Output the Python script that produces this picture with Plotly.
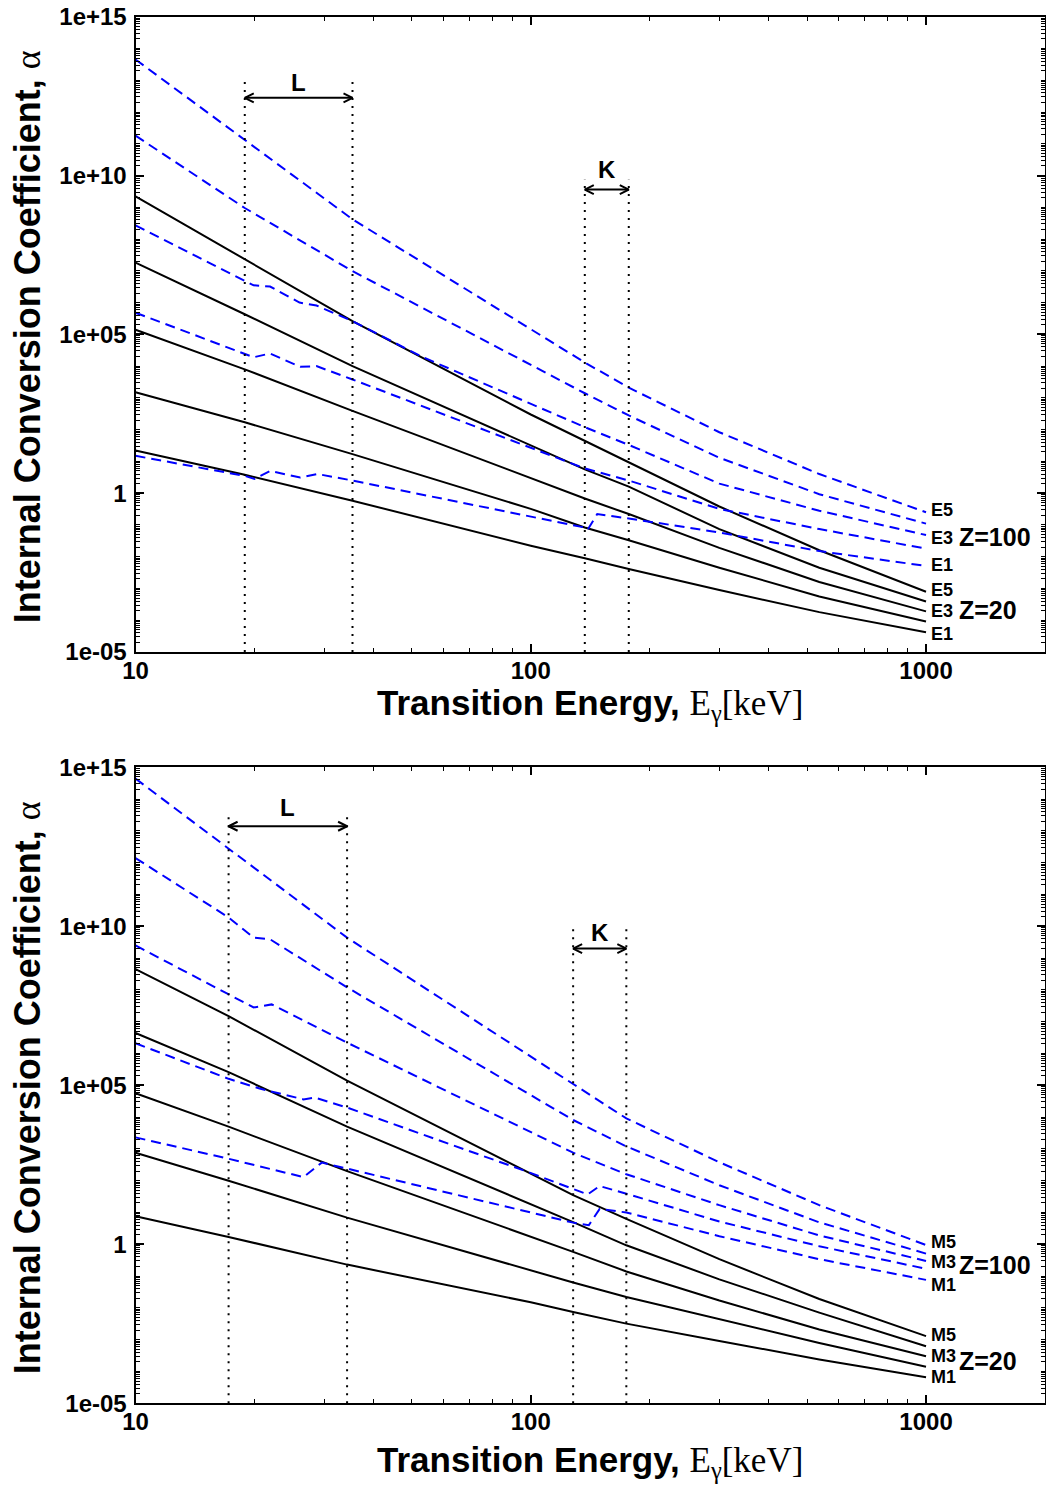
import math
import plotly.graph_objects as go

# ---------------- data: internal conversion coefficients ----------------
# Upper panel, electric multipoles.  Z=20 curves share one energy grid (keV).
E_EL_Z20 = [10, 18.9, 35.4, 100, 137, 177, 300, 537, 1000]
ALPHA_E1_Z20 = [22, 3.8, 0.58, 0.022, 8.9e-3, 4.1e-3, 8.9e-4, 1.8e-4, 4.2e-5]
ALPHA_E2_Z20 = [1.5e3, 1.7e2, 17, 0.32, 0.083, 0.033, 4.5e-3, 5.6e-4, 9.1e-5]
ALPHA_E3_Z20 = [1.4e5, 7.9e3, 3.9e2, 3.1, 0.68, 0.22, 0.019, 1.6e-3, 1.9e-4]
ALPHA_E4_Z20 = [1.8e7, 4.3e5, 1.0e4, 31, 5.6, 1.6, 0.074, 4.5e-3, 3.9e-4]
ALPHA_E5_Z20 = [2.2e9, 2.3e7, 2.6e5, 3.0e2, 44, 9.3, 0.38, 0.016, 7.9e-4]

# Z=100 curves (with L- and K-shell edge structure)
E_E5_Z100 = [10, 18.9, 35.4, 137, 177, 300, 537, 1000]
ALPHA_E5_Z100 = [4.5e13, 1.3e11, 4.2e8, 1.3e4, 2.1e3, 83, 4.0, 0.25]
E_E4_Z100 = [10, 18.9, 35.4, 137, 177, 300, 537, 1000]
ALPHA_E4_Z100 = [1.8e11, 9.5e8, 9.8e6, 1.4e3, 2.8e2, 13, 0.93, 0.11]
E_E3_Z100 = [10, 18.9, 19.9, 21.9, 26.0, 28.7, 35.4, 53.4, 137, 177, 300, 537, 1000]
ALPHA_E3_Z100 = [2.7e8, 5.0e6, 3.5e6, 3.2e6, 1.0e6, 8.1e5, 2.6e5, 1.9e4, 1.2e2, 33, 2.0, 0.28, 0.048]
E_E2_Z100 = [10, 18.9, 19.9, 21.9, 26.1, 28.7, 35.4, 137, 177, 300, 537, 1000]
ALPHA_E2_Z100 = [4.8e5, 2.3e4, 1.9e4, 2.5e4, 9.5e3, 1.0e4, 3.8e3, 6.0, 2.5, 0.32, 0.074, 0.018]
E_E1_Z100 = [10, 18.9, 20.0, 21.9, 26.1, 28.9, 35.4, 137, 139.3, 147.3, 177, 300, 537, 1000]
ALPHA_E1_Z100 = [15, 3.5, 2.8, 5.0, 3.1, 4.0, 2.5, 0.083, 0.071, 0.22, 0.16, 0.058, 0.015, 5.1e-3]

# Lower panel, magnetic multipoles.
E_MAG_Z20 = [10, 17.2, 34.3, 100, 128, 174.5, 300, 537, 1000]
ALPHA_M1_Z20 = [7.6, 1.7, 0.23, 0.015, 7.4e-3, 3.2e-3, 9.1e-4, 2.4e-4, 6.6e-5]
ALPHA_M2_Z20 = [7.6e2, 1.0e2, 6.9, 0.15, 0.063, 0.022, 4.4e-3, 7.9e-4, 1.4e-4]
ALPHA_M3_Z20 = [5.6e4, 5.0e3, 2.0e2, 1.8, 0.58, 0.14, 0.017, 2.1e-3, 3.0e-4]
ALPHA_M4_Z20 = [4.4e6, 2.6e5, 5.0e3, 19, 5.0, 0.93, 0.079, 7.1e-3, 6.2e-4]
ALPHA_M5_Z20 = [4.5e8, 1.5e7, 1.4e5, 1.6e2, 35, 6.3, 0.34, 0.019, 1.3e-3]

E_M5_Z100 = [10, 17.2, 34.3, 128, 174.5, 300, 537, 1000]
ALPHA_M5_Z100 = [4.4e14, 2.8e12, 4.4e9, 1.1e5, 9.1e3, 3.8e2, 17, 0.95]
E_M4_Z100 = [10, 17.2, 19.9, 21.9, 34.3, 128, 174.5, 300, 537, 1000]
ALPHA_M4_Z100 = [1.4e12, 1.9e10, 4.4e9, 3.9e9, 1.2e8, 8.1e3, 1.2e3, 72, 4.9, 0.51]
E_M3_Z100 = [10, 17.2, 19.9, 22.1, 34.3, 128, 174.5, 300, 537, 1000]
ALPHA_M3_Z100 = [2.5e9, 7.2e7, 2.8e7, 3.5e7, 2.2e6, 7.6e2, 1.6e2, 17, 1.9, 0.30]
E_M2_Z100 = [10, 17.2, 20.6, 26.6, 28.4, 34.3, 99.4, 128, 139.3, 149.4, 174.5, 300, 537, 1000]
ALPHA_M2_Z100 = [2.1e6, 1.6e5, 7.9e4, 3.6e4, 4.1e4, 2.0e4, 1.8e2, 54, 37, 68, 39, 5.2, 0.87, 0.17]
E_M1_Z100 = [10, 17.2, 26.6, 29.6, 34.3, 128, 140.3, 149.4, 174.5, 300, 537, 1000]
ALPHA_M1_Z100 = [2.3e3, 4.9e2, 1.3e2, 3.7e2, 2.4e2, 4.8, 4.0, 13, 10, 1.8, 0.34, 0.076]

# Binding-energy ranges (keV) marked by dotted lines
TOP_L_EDGES = [18.9, 35.4]
TOP_K_EDGES = [137, 177]
BOT_L_EDGES = [17.2, 34.3]
BOT_K_EDGES = [128, 174.5]
# heights (alpha) of: dotted line top, arrow, letter
TOP_L_MARK = [1.0e13, 2.8e12, 8.3e12]
TOP_K_MARK = [7.4e9, 3.6e9, 1.5e10]
BOT_L_MARK = [3.8e13, 1.4e13, 5.5e13]
BOT_K_MARK = [8.1e9, 2.0e9, 6.6e9]

# Axis ticks
X_TICKS = [10, 100, 1000]
X_TICK_TEXT = ["10", "100", "1000"]
Y_TICKS = [1e-5, 1, 1e5, 1e10, 1e15]
Y_TICK_TEXT = ["1e-05", "1", "1e+05", "1e+10", "1e+15"]
X_MAX = 2000
Y_MIN, Y_MAX = 1e-5, 1e15

SANS = "Liberation Sans, Arial, Helvetica, sans-serif"
BLUE = "#0000ff"
BLACK = "#000000"

fig = go.Figure()


def add_curve(xs, ys, xa, ya, z100):
    fig.add_trace(go.Scatter(
        x=xs, y=ys, mode="lines", xaxis=xa, yaxis=ya,
        line=dict(color=BLUE if z100 else BLACK, width=2,
                  dash="10px,6px" if z100 else "solid"),
        hoverinfo="skip", showlegend=False))


# ---- upper panel curves ----
for a in [ALPHA_E1_Z20, ALPHA_E2_Z20, ALPHA_E3_Z20, ALPHA_E4_Z20, ALPHA_E5_Z20]:
    add_curve(E_EL_Z20, a, "x", "y", False)
for e, a in [(E_E1_Z100, ALPHA_E1_Z100), (E_E2_Z100, ALPHA_E2_Z100),
             (E_E3_Z100, ALPHA_E3_Z100), (E_E4_Z100, ALPHA_E4_Z100),
             (E_E5_Z100, ALPHA_E5_Z100)]:
    add_curve(e, a, "x", "y", True)

# ---- lower panel curves ----
for a in [ALPHA_M1_Z20, ALPHA_M2_Z20, ALPHA_M3_Z20, ALPHA_M4_Z20, ALPHA_M5_Z20]:
    add_curve(E_MAG_Z20, a, "x2", "y2", False)
for e, a in [(E_M1_Z100, ALPHA_M1_Z100), (E_M2_Z100, ALPHA_M2_Z100),
             (E_M3_Z100, ALPHA_M3_Z100), (E_M4_Z100, ALPHA_M4_Z100),
             (E_M5_Z100, ALPHA_M5_Z100)]:
    add_curve(e, a, "x2", "y2", True)

# ---- edge markers: dotted verticals, double arrows, letters ----
X_DECADE_PX = 395.6
Y_DECADE_PX = 31.8
HEAD_DX = 10 ** (9 / X_DECADE_PX)    # arrow-head length as a factor in energy
HEAD_DY = 10 ** (4.5 / Y_DECADE_PX)  # arrow-head half width as a factor in alpha
annotations = []


def edge_marker(edges, mark, letter, xa, ya):
    top, arrow_y, label_y = mark
    for e in edges:
        fig.add_trace(go.Scatter(
            x=[e, e], y=[Y_MIN, top], mode="lines", xaxis=xa, yaxis=ya,
            line=dict(color=BLACK, width=2, dash="2px,6px"),
            hoverinfo="skip", showlegend=False))
    lo, hi = edges
    xs = [lo, hi, None,
          lo * HEAD_DX, lo, lo * HEAD_DX, None,
          hi / HEAD_DX, hi, hi / HEAD_DX]
    ys = [arrow_y, arrow_y, None,
          arrow_y * HEAD_DY, arrow_y, arrow_y / HEAD_DY, None,
          arrow_y * HEAD_DY, arrow_y, arrow_y / HEAD_DY]
    fig.add_trace(go.Scatter(
        x=xs, y=ys, mode="lines", xaxis=xa, yaxis=ya,
        line=dict(color=BLACK, width=2),
        hoverinfo="skip", showlegend=False))
    annotations.append(dict(
        x=(math.log10(lo) + math.log10(hi)) / 2, y=math.log10(label_y),
        xref=xa, yref=ya, text=letter, showarrow=False,
        font=dict(family=SANS, size=24, color=BLACK, weight="bold"),
        xanchor="center", yanchor="middle"))


edge_marker(TOP_L_EDGES, TOP_L_MARK, "L", "x", "y")
edge_marker(TOP_K_EDGES, TOP_K_MARK, "K", "x", "y")
edge_marker(BOT_L_EDGES, BOT_L_MARK, "L", "x2", "y2")
edge_marker(BOT_K_EDGES, BOT_K_MARK, "K", "x2", "y2")


# ---- multipolarity labels at the curve ends ----
def end_label(xs, ys, text, xref, yref, dy=0):
    annotations.append(dict(
        x=math.log10(xs[-1]), y=math.log10(ys[-1]), xref=xref, yref=yref,
        text=text, showarrow=False, xanchor="left", yanchor="middle",
        xshift=3, yshift=dy,
        font=dict(family=SANS, size=18, color=BLACK, weight="bold")))


def z_label(xs, ys, text, xref, yref, dy=0):
    annotations.append(dict(
        x=math.log10(xs[-1]), y=math.log10(ys[-1]), xref=xref, yref=yref,
        text=text, showarrow=False, xanchor="left", yanchor="middle",
        xshift=31, yshift=dy,
        font=dict(family=SANS, size=25, color=BLACK, weight="bold")))


end_label(E_E5_Z100, ALPHA_E5_Z100, "E5", "x", "y", 2)
end_label(E_E3_Z100, ALPHA_E3_Z100, "E3", "x", "y", -3)
end_label(E_E1_Z100, ALPHA_E1_Z100, "E1", "x", "y", 1)
z_label(E_E3_Z100, ALPHA_E3_Z100, "Z=100", "x", "y", -2)
end_label(E_EL_Z20, ALPHA_E5_Z20, "E5", "x", "y", 2)
end_label(E_EL_Z20, ALPHA_E3_Z20, "E3", "x", "y", 0)
end_label(E_EL_Z20, ALPHA_E1_Z20, "E1", "x", "y", -2)
z_label(E_EL_Z20, ALPHA_E3_Z20, "Z=20", "x", "y", 1)

end_label(E_M5_Z100, ALPHA_M5_Z100, "M5", "x2", "y2", 3)
end_label(E_M3_Z100, ALPHA_M3_Z100, "M3", "x2", "y2", -1)
end_label(E_M1_Z100, ALPHA_M1_Z100, "M1", "x2", "y2", -5)
z_label(E_M3_Z100, ALPHA_M3_Z100, "Z=100", "x2", "y2", -4)
end_label(E_MAG_Z20, ALPHA_M5_Z20, "M5", "x2", "y2", 1)
end_label(E_MAG_Z20, ALPHA_M3_Z20, "M3", "x2", "y2", 0)
end_label(E_MAG_Z20, ALPHA_M1_Z20, "M1", "x2", "y2", 0)
z_label(E_MAG_Z20, ALPHA_M3_Z20, "Z=20", "x2", "y2", -5)

# ---- axis titles ----
W, H = 1046, 1488
X_DOMAIN = [135.5 / W, 1045.0 / W]
TOP_DOMAIN = [1 - 652.0 / H, 1 - 16.7 / H]
BOT_DOMAIN = [1 - 1403.3 / H, 1 - 767.3 / H]
x_mid = (X_DOMAIN[0] + X_DOMAIN[1]) / 2

xtitle = ("<b>Transition Energy, </b>"
          "<span style='font-family:Liberation Serif, Times New Roman, serif;font-weight:normal'>"
          "E<sub>γ</sub>[keV]</span>")
ytitle = ("<b>Internal Conversion Coefficient, </b>"
          "<span style='font-family:Liberation Serif, Times New Roman, serif;font-weight:normal'>α</span>")

for y_top in [1 - 681.0 / H, 1 - 1438.0 / H]:
    annotations.append(dict(
        x=x_mid, y=y_top, xref="paper", yref="paper", text=xtitle,
        showarrow=False, xanchor="center", yanchor="top",
        font=dict(family=SANS, size=35, color=BLACK)))
for dom in [TOP_DOMAIN, BOT_DOMAIN]:
    annotations.append(dict(
        x=27.0 / W, y=(dom[0] + dom[1]) / 2 - 3.0 / H, xref="paper", yref="paper",
        text=ytitle, textangle=-90, showarrow=False,
        xanchor="center", yanchor="middle",
        font=dict(family=SANS, size=36, color=BLACK)))

# ---- axes ----
x_minor = [k * 10 ** n for n in range(1, 4) for k in range(2, 10) if k * 10 ** n < X_MAX]
y_minor = [k * 10.0 ** n for n in range(-5, 15) for k in range(1, 10)
           if not (k == 1 and n % 5 == 0)]
tickfont = dict(family=SANS, size=24, color=BLACK, weight="bold")


def xaxis_cfg(anchor):
    return dict(type="log", range=[1, math.log10(X_MAX)], domain=X_DOMAIN,
                anchor=anchor, showline=True, linecolor=BLACK, linewidth=2,
                mirror="allticks", ticks="inside", ticklen=8, tickwidth=1.5,
                tickcolor=BLACK, tickmode="array", tickvals=X_TICKS,
                ticktext=X_TICK_TEXT, showgrid=False, zeroline=False,
                minor=dict(ticks="inside", ticklen=4, tickwidth=1, tickcolor=BLACK,
                           tickmode="array", tickvals=x_minor, showgrid=False),
                tickfont=tickfont, ticklabelstandoff=-4, automargin=False)


def yaxis_cfg(anchor, dom):
    return dict(type="log", range=[math.log10(Y_MIN), math.log10(Y_MAX)], domain=dom,
                anchor=anchor, showline=True, linecolor=BLACK, linewidth=2,
                mirror="allticks", ticks="inside", ticklen=8, tickwidth=1.5,
                tickcolor=BLACK, tickmode="array", tickvals=Y_TICKS,
                ticktext=Y_TICK_TEXT, showgrid=False, zeroline=False,
                minor=dict(ticks="inside", ticklen=4, tickwidth=1, tickcolor=BLACK,
                           tickmode="array", tickvals=y_minor, showgrid=False),
                tickfont=tickfont, ticklabelstandoff=2, automargin=False)


fig.update_layout(
    width=W, height=H,
    margin=dict(l=0, r=0, t=0, b=0, pad=0, autoexpand=False),
    paper_bgcolor="white", plot_bgcolor="white",
    showlegend=False,
    xaxis=xaxis_cfg("y"), yaxis=yaxis_cfg("x", TOP_DOMAIN),
    xaxis2=xaxis_cfg("y2"), yaxis2=yaxis_cfg("x2", BOT_DOMAIN),
    annotations=annotations,
)

fig.write_html("out.html")
